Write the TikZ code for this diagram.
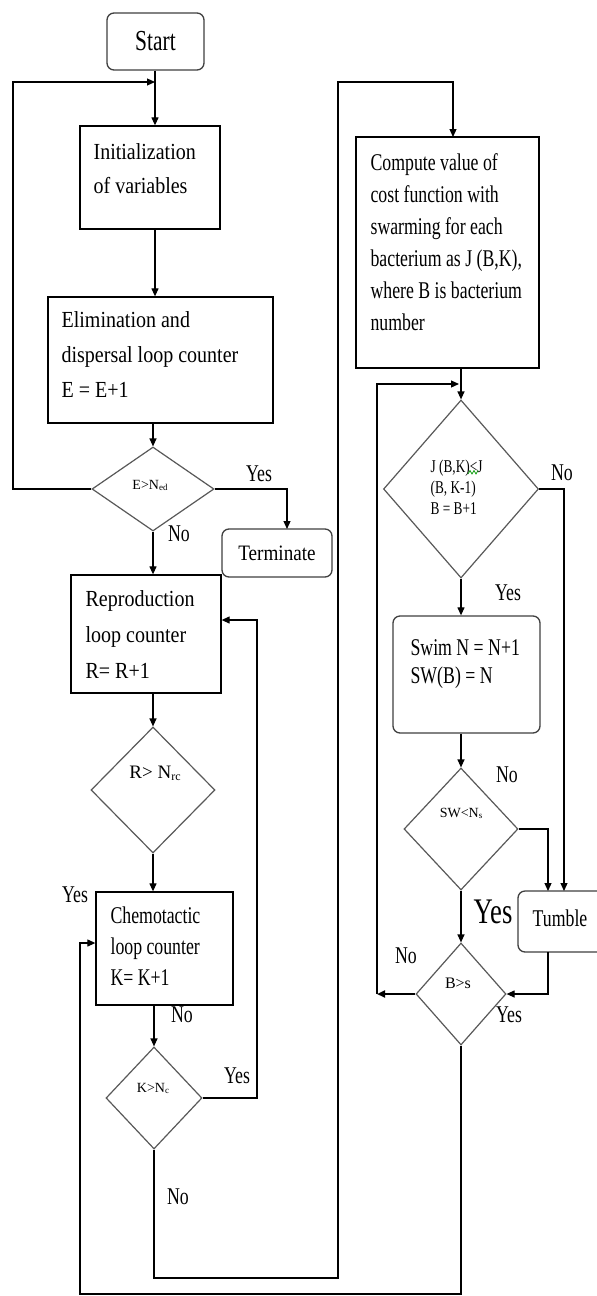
\documentclass[tikz,border=0pt]{standalone}
\usepackage{fontspec}
\setmainfont{Liberation Serif}
\newfontfamily\fL[FakeStretch=0.87]{Liberation Serif}
\newfontfamily\fR[FakeStretch=0.74]{Liberation Serif}
\usetikzlibrary{shapes.geometric,arrows.meta}
\newcommand{\txtL}{\fL\fontsize{23}{28}\selectfont}
\newcommand{\txtR}{\fR\fontsize{24}{28}\selectfont}
\newcommand{\sbs}[1]{{\fontsize{9}{9}\selectfont\raisebox{-1.5pt}{#1}}}
\begin{document}
\begin{tikzpicture}[x=1pt,y=-1pt,
  line width=1.2pt,
  arr/.style={-{Triangle[length=8pt,width=7pt]}},
  box/.style={draw=black, line width=1.3pt, inner sep=0},
  rbox/.style={draw=black!75, line width=1.3pt, rounded corners=7pt, inner sep=0},
  dia/.style={diamond, draw=black!65, line width=1.2pt, inner sep=0},
  tl/.style={inner sep=0, anchor=base west},
  lbl/.style={inner sep=0, anchor=base, font=\txtR},
]
\useasboundingbox (0,0) rectangle (597,1296);
\fill[white] (0,0) rectangle (597,1296);

% ---------- boxes ----------
\node[rbox, minimum width=97, minimum height=57, font=\fR\fontsize{29}{29}\selectfont] (start) at (155.5,41.5) {Start};
\node[box, minimum width=140, minimum height=103] (init) at (150,177.5) {};
\node[box, minimum width=225, minimum height=126] (elim) at (160.5,360) {};
\node[rbox, minimum width=110, minimum height=48, font=\fL\fontsize{22}{22}\selectfont] (term) at (277,553) {Terminate};
\node[box, minimum width=150, minimum height=118] (repro) at (146,634) {};
\node[box, minimum width=137, minimum height=113] (chemo) at (164.5,948.5) {};
\node[box, minimum width=183, minimum height=231] (comp) at (447.5,252.5) {};
\node[rbox, minimum width=147, minimum height=117] (swim) at (466.5,674.5) {};
\node[rbox, minimum width=86, minimum height=61] (tumble) at (561,921.5) {};

% ---------- diamonds ----------
\node[dia, minimum width=122, minimum height=84] (d1) at (153,489) {};
\node[dia, minimum width=124, minimum height=126] (d2) at (153,790) {};
\node[dia, minimum width=96, minimum height=102] (d3) at (154,1098) {};
\node[dia, minimum width=155, minimum height=178] (d4) at (461,489) {};
\node[dia, minimum width=114, minimum height=122] (d5) at (461,829) {};
\node[dia, minimum width=90, minimum height=102] (d6) at (461,994) {};

% ---------- box texts ----------
\node[tl, font=\txtL] (i1) at (93,159) {Initialization};
\node[tl, font=\txtL] (i2) at (93,193) {of variables};
\node[tl, font=\txtL] (e1) at (61,327) {Elimination and};
\node[tl, font=\txtL] (e2) at (61,362) {dispersal loop counter};
\node[tl, font=\txtL] (e3) at (61,397) {E = E+1};
\node[tl, font=\txtL] (r1) at (85,606) {Reproduction};
\node[tl, font=\txtL] (r2) at (85,642) {loop counter};
\node[tl, font=\txtL] (r3) at (85,678) {R= R+1};
\node[tl, font=\txtR] (c1) at (110,923) {Chemotactic};
\node[tl, font=\txtR] (c2) at (110,954) {loop counter};
\node[tl, font=\txtR] (c3) at (110,985) {K= K+1};
\node[tl, font=\txtR] (p1) at (370,170) {Compute value of};
\node[tl, font=\txtR] (p2) at (370,202) {cost function with};
\node[tl, font=\txtR] (p3) at (370,234) {swarming for each};
\node[tl, font=\txtR] (p4) at (370,266) {bacterium as J (B,K),};
\node[tl, font=\txtR] (p5) at (370,298) {where B is bacterium};
\node[tl, font=\txtR] (p6) at (370,330) {number};
\node[tl, font=\txtR] (s1) at (410,655) {Swim N = N+1};
\node[tl, font=\txtR] (s2) at (410,683) {SW(B) = N};
\node[inner sep=0, anchor=base, font=\txtR] (tt) at (560,926) {Tumble};

% ---------- diamond texts ----------
\node[inner sep=0, anchor=base, font=\fontsize{14}{14}\selectfont] (l1) at (150,489) {E>N\sbs{ed}};
\node[inner sep=0, anchor=base, font=\fontsize{19}{19}\selectfont] (l2) at (155,778) {R> N{\fontsize{12}{12}\selectfont\raisebox{-2pt}{rc}}};
\node[inner sep=0, anchor=base, font=\fontsize{14}{14}\selectfont] (l3) at (153,1092) {K>N\sbs{c}};
\node[tl, font=\fR\fontsize{18}{18}\selectfont] (j1) at (430,472) {J (B,K)<J};
\node[tl, font=\fR\fontsize{18}{18}\selectfont] (j2) at (430,493) {(B, K-1)};
\node[tl, font=\fR\fontsize{18}{18}\selectfont] (j3) at (430,514) {B = B+1};
\draw[green!60!black, line width=0.7pt] (468,474) -- (470,470.5) -- (472,474) -- (474,470.5) -- (476,474) -- (478,470.5);
\node[inner sep=0, anchor=base, font=\fontsize{14}{14}\selectfont] (l5) at (461,817) {SW<N\sbs{s}};
\node[inner sep=0, anchor=base, font=\fontsize{16}{16}\selectfont] (l6) at (458,988) {B>s};

% ---------- yes / no labels ----------
\node[lbl] (y1) at (259,481) {Yes};
\node[lbl] (n1) at (179,541) {No};
\node[lbl] (y2) at (75,902) {Yes};
\node[lbl] (n2) at (182,1022) {No};
\node[lbl] (y3) at (237,1083) {Yes};
\node[lbl] (n3) at (178,1204) {No};
\node[lbl] (n4) at (562,480) {No};
\node[lbl] (y4) at (508,600) {Yes};
\node[lbl] (n5) at (507,782) {No};
\node[inner sep=0, anchor=base, font=\fR\fontsize{36}{36}\selectfont] (y5) at (493,923) {Yes};
\node[lbl] (n6) at (406,963) {No};
\node[lbl] (y6) at (509,1022) {Yes};

% ---------- helper coordinates ----------
\coordinate (ja) at (155,82);
\coordinate (la) at (13,489);
\coordinate (tA) at (287,529);
\coordinate (ra) at (257,1098);
\coordinate (ka) at (154,1278);
\coordinate (kb) at (338,1278);
\coordinate (kc) at (338,82);
\coordinate (cA) at (453,137);
\coordinate (tB) at (564,891);
\coordinate (tC) at (548,891);
\coordinate (ba) at (377,994);
\coordinate (bb) at (459,384);
\coordinate (tD) at (548,952);
\coordinate (ua) at (461,1294);
\coordinate (ub) at (80,1294);

% ---------- connectors ----------
\draw[arr] (start.south -| ja) -- (init.north -| ja);
\draw[arr] (d1.west) -- (la) |- (ja);
\draw[arr] (init.south -| ja) -- (elim.north -| ja);
\draw[arr] (elim.south -| d1.north) -- (d1.north);
\draw[arr] (d1.east) -| (tA);
\draw[arr] (d1.south) -- (d1.south |- repro.north);
\draw[arr] (repro.south -| d2.north) -- (d2.north);
\draw[arr] (d2.south) -- (d2.south |- chemo.north);
\draw[arr] (chemo.south -| d3.north) -- (d3.north);
\draw[arr] (d3.east) -- (ra) |- (repro.east |- 0,620);
\draw[arr] (d3.south) -- (ka) -- (kb) -- (kc) -| (cA);
\draw[arr] (comp.south -| d4.north) -- (d4.north);
\draw[arr] (d4.east) -| (tB);
\draw[arr] (d4.south) -- (d4.south |- swim.north);
\draw[arr] (swim.south -| d5.north) -- (d5.north);
\draw[arr] (d5.east) -| (tC);
\draw[arr] (d5.south) -- (d6.north);
\draw[arr, line width=2pt] (d6.west) -- (ba);
\draw[arr] (ba) |- (bb);
\draw[arr] (tD) |- (d6.east);
\draw[arr] (d6.south) -- (ua) -- (ub) |- (chemo.west |- 0,943);
\end{tikzpicture}
\end{document}
